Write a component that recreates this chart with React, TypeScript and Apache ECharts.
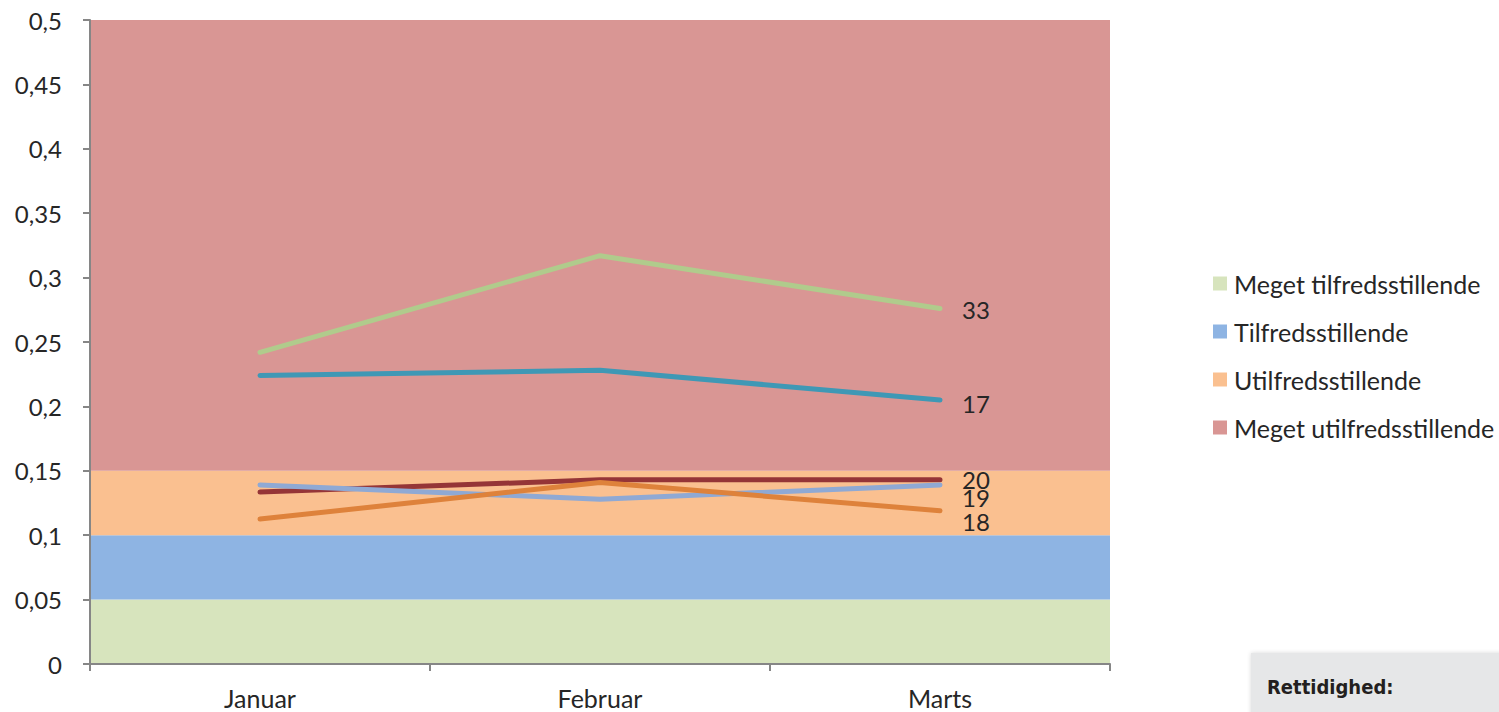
import React, { useEffect, useRef } from "react";
import * as echarts from "echarts";

const months = ["Januar", "Februar", "Marts"];

const bandNames = [
  "Meget tilfredsstillende",
  "Tilfredsstillende",
  "Utilfredsstillende",
  "Meget utilfredsstillende",
];
// stacked band heights (boundaries 0.05, 0.10, 0.15, 0.50)
const bandHeights = [0.05, 0.05, 0.05, 0.35];
const bandColors = ["#D7E4BD", "#8EB4E3", "#FAC090", "#D99694"];

const lineGreen = [0.242, 0.317, 0.276];
const lineTeal = [0.224, 0.228, 0.205];
const lineDarkRed = [0.1335, 0.143, 0.143];
const lineBlue = [0.139, 0.128, 0.139];
const lineOrange = [0.1125, 0.141, 0.119];

const lineValues = [lineGreen, lineTeal, lineDarkRed, lineBlue, lineOrange];
const lineEndLabels = ["33", "17", "20", "19", "18"];
const lineColors = ["#B0CB8C", "#3F98B5", "#953537", "#8FA9D4", "#DE823B"];
const labelOffsets = [
  [22, 1],
  [22, 4],
  [22, 0],
  [22, 13],
  [22, 11],
];

const FONT = "Lato, 'Open Sans', sans-serif";
const TEXT = "#262626";

export default function App() {
  const ref = useRef<HTMLDivElement>(null);
  useEffect(() => {
    if (!ref.current) return;
    const chart = echarts.init(ref.current, null, { renderer: "svg" });
    const bandSeries = bandNames.map((name, i) => ({
      name,
      type: "line",
      xAxisIndex: 1,
      stack: "bands",
      symbol: "none",
      silent: true,
      z: 1,
      lineStyle: { width: 0 },
      itemStyle: { color: bandColors[i] },
      areaStyle: { color: bandColors[i], opacity: 1 },
      data: [bandHeights[i], bandHeights[i]],
    }));
    const lineSeries = lineValues.map((vals, i) => ({
      name: "l" + i,
      type: "line",
      xAxisIndex: 0,
      symbol: "none",
      silent: true,
      z: 3 + i,
      lineStyle: { width: 5, color: lineColors[i], cap: "round", join: "round" },
      itemStyle: { color: lineColors[i] },
      endLabel: {
        show: true,
        formatter: () => lineEndLabels[i],
        color: TEXT,
        fontSize: 24,
        lineHeight: 16,
        fontFamily: FONT,
        offset: labelOffsets[i],
        distance: 0,
      },
      data: vals,
    }));
    chart.setOption({
      animation: false,
      textStyle: { fontFamily: FONT },
      grid: { left: 90, top: 20, width: 1020, height: 644, containLabel: false },
      legend: {
        orient: "vertical",
        left: 1208,
        top: 266,
        itemWidth: 14,
        itemHeight: 14,
        itemGap: 23,
        icon: "rect",
        data: bandNames,
        selectedMode: false,
        textStyle: { color: TEXT, fontSize: 25, fontFamily: FONT, padding: [0, 0, 0, 2] },
      },
      xAxis: [
        {
          type: "category",
          data: months,
          boundaryGap: true,
          axisLine: { lineStyle: { color: "#868686", width: 2 } },
          axisTick: { show: true, length: 7, lineStyle: { color: "#868686", width: 2 } },
          axisLabel: { color: TEXT, fontSize: 25, fontFamily: FONT, margin: 21 },
          splitLine: { show: false },
          z: 10,
        },
        {
          type: "category",
          data: ["a", "b"],
          boundaryGap: false,
          show: false,
        },
      ],
      yAxis: {
        type: "value",
        min: 0,
        max: 0.5,
        interval: 0.05,
        axisLine: { show: true, lineStyle: { color: "#868686", width: 2 } },
        axisTick: { show: true, length: 7, lineStyle: { color: "#868686", width: 2 } },
        axisLabel: {
          color: TEXT,
          fontSize: 24,
          fontFamily: FONT,
          margin: 28,
          formatter: (v: number) => String(Number(v.toFixed(2))).replace(".", ","),
        },
        splitLine: { show: false },
        z: 10,
      },
      graphic: [
        {
          type: "rect",
          left: 1251,
          top: 653,
          shape: { width: 260, height: 70 },
          style: {
            fill: "#E6E7E8",
            shadowBlur: 4,
            shadowColor: "rgba(0,0,0,0.15)",
          },
        },
        {
          type: "text",
          left: 1267,
          top: 677,
          style: {
            text: "Rettidighed:",
            fill: "#231F20",
            fontSize: 20,
            fontWeight: "bold",
            fontFamily: "'DejaVu Sans Condensed', Roboto, sans-serif",
          },
        },
      ],
      series: [...bandSeries, ...lineSeries],
    });
    return () => chart.dispose();
  }, []);
  return (
    <div
      ref={ref}
      style={{ position: "absolute", left: 0, top: 0, width: 1499, height: 712, background: "#fff" }}
    />
  );
}
